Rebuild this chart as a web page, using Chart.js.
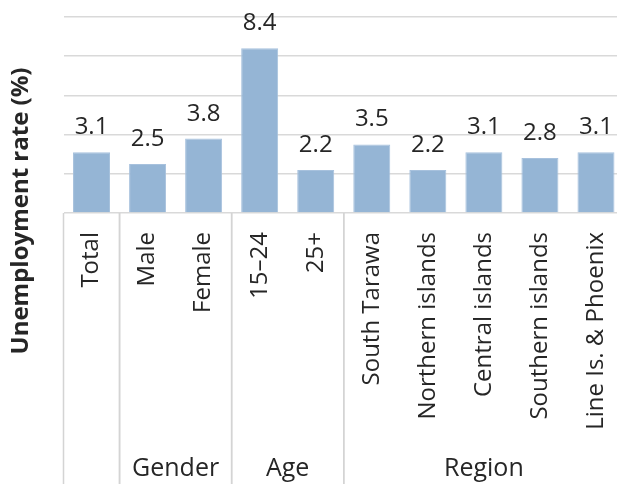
<!DOCTYPE html>
<html>
<head>
<meta charset="utf-8">
<script src="https://cdn.jsdelivr.net/npm/chart.js@4/dist/chart.umd.min.js"></script>
<style>
  html, body { margin: 0; padding: 0; overflow: hidden; background: #fff; }
  #wrap { width: 624px; height: 484px; }
</style>
</head>
<body>
<div id="wrap"><canvas id="myChart" width="624" height="484"></canvas></div>
<script>
const categories = ["Total", "Male", "Female", "15\u201324", "25+", "South Tarawa", "Northern islands", "Central islands", "Southern islands", "Line Is. & Phoenix"];
const rates = [3.1, 2.5, 3.8, 8.4, 2.2, 3.5, 2.2, 3.1, 2.8, 3.1];
// groups: label, first index, last index
const groupNames = ["", "Gender", "Age", "Region"];
const groupStart = [0, 1, 3, 5];
const groupEnd = [0, 2, 4, 9];
const yTitle = "Unemployment rate (%)";

const FONT = "'Open Sans', sans-serif";
const TEXT = "#262626";

const extras = {
  id: "extras",
  afterDatasetsDraw(chart) {
    const ctx = chart.ctx;
    const meta = chart.getDatasetMeta(0);
    ctx.save();
    ctx.fillStyle = TEXT;
    ctx.font = "24px " + FONT;
    ctx.textAlign = "center";
    ctx.textBaseline = "alphabetic";
    meta.data.forEach((bar, i) => {
      ctx.fillText(rates[i].toFixed(1), bar.x, bar.y - 18);
    });
    ctx.restore();
  },
  afterDraw(chart) {
    const ctx = chart.ctx;
    const x = chart.scales.x;
    const area = chart.chartArea;
    const step = x.getPixelForValue(1) - x.getPixelForValue(0);
    const edge = (i) => x.getPixelForValue(i) - step / 2;
    ctx.save();
    ctx.strokeStyle = "#d4d4d4";
    ctx.lineWidth = 1.5;
    ctx.fillStyle = TEXT;
    ctx.font = "25px " + FONT;
    ctx.textAlign = "center";
    ctx.textBaseline = "middle";
    groupNames.forEach((name, g) => {
      const l = edge(groupStart[g]);
      const r = edge(groupEnd[g] + 1);
      ctx.beginPath();
      ctx.moveTo(l, area.bottom);
      ctx.lineTo(l, chart.height);
      ctx.moveTo(r, area.bottom);
      ctx.lineTo(r, chart.height);
      ctx.stroke();
      if (name) ctx.fillText(name, (l + r) / 2, 469);
    });
    // y axis title
    ctx.translate(21, 211);
    ctx.rotate(-Math.PI / 2);
    ctx.font = "bold 24px " + FONT;
    ctx.fillText(yTitle, 0, 0);
    ctx.restore();
  }
};

new Chart(document.getElementById("myChart"), {
  type: "bar",
  data: {
    labels: categories,
    datasets: [{
      data: rates,
      backgroundColor: "#95b5d5",
      borderColor: "#a7c1dd",
      borderWidth: 1,
      categoryPercentage: 1,
      barPercentage: 0.66
    }]
  },
  options: {
    responsive: false,
    animation: false,
    devicePixelRatio: 1,
    layout: { padding: { top: 17, left: 0, right: 0, bottom: 0 } },
    plugins: { legend: { display: false }, tooltip: { enabled: false } },
    scales: {
      x: {
        grid: { display: false, drawTicks: false },
        border: { display: false },
        ticks: {
          minRotation: 90, maxRotation: 90, autoSkip: false,
          padding: 19, color: TEXT, font: { family: FONT, size: 24 }
        },
        afterFit(scale) {
          scale.height = 271;
          scale.paddingLeft = 0;
          scale.paddingRight = 0;
        }
      },
      y: {
        min: 0, max: 10,
        ticks: { display: false, stepSize: 2 },
        grid: { color: "#d9d9d9", lineWidth: 1.5, drawTicks: false },
        border: { display: false },
        afterFit(scale) { scale.width = 63.5; }
      }
    }
  },
  plugins: [extras]
});
</script>
</body>
</html>
